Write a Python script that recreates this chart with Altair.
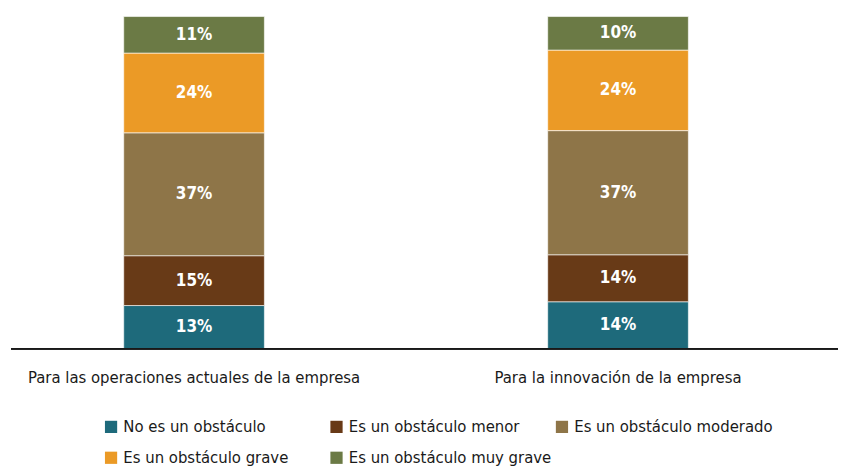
import altair as alt
import pandas as pd

categories = ["Para las operaciones actuales de la empresa", "Para la innovación de la empresa"]
levels = ["No es un obstáculo", "Es un obstáculo menor", "Es un obstáculo moderado",
          "Es un obstáculo grave", "Es un obstáculo muy grave"]
colors = ["#1E6A7B", "#683A17", "#8E7548", "#EB9A26", "#6B7A45"]
values_ops = [13, 15, 37, 24, 11]
values_inn = [14, 14, 37, 24, 10]

rows = []
for cat, vals in zip(categories, [values_ops, values_inn]):
    for i, (lev, v) in enumerate(zip(levels, vals)):
        rows.append({"cat": cat, "level": lev, "order": i, "value": v, "label": f"{v}%"})
df = pd.DataFrame(rows)

FONT = "'DejaVu Sans Condensed', Roboto, sans-serif"
W, H = 829, 333

xscale = alt.Scale(domain=categories, range=[113, 679], paddingInner=1 - 141 / 425, paddingOuter=0)

base = alt.Chart(df).transform_stack(
    stack="value", groupby=["cat"], as_=["y0", "y1"],
    sort=[alt.SortField("order", order="ascending")], offset="normalize"
).transform_calculate(mid="(datum.y0 + datum.y1) / 2")

bars = base.mark_bar(stroke="white", strokeWidth=0.6).encode(
    x=alt.X("cat:N", scale=xscale, sort=categories,
            axis=alt.Axis(title=None, labelAngle=0, domain=False, ticks=False,
                          labelFont=FONT, labelFontSize=16.6, labelColor="#1a1a1a",
                          labelPadding=21, labelLimit=500)),
    y=alt.Y("y0:Q", scale=alt.Scale(domain=[0, 1]), axis=None),
    y2="y1:Q",
    color=alt.Color("level:N", scale=alt.Scale(domain=levels, range=colors),
                    legend=alt.Legend(title=None, orient="none", legendX=92, legendY=403,
                                      direction="horizontal", columns=3, gridAlign="all",
                                      columnPadding=2, rowPadding=14,
                                      symbolType="square", symbolSize=150, symbolStrokeWidth=0,
                                      labelFont=FONT, labelFontSize=16.6, labelColor="#1a1a1a",
                                      labelOffset=4, labelLimit=400)),
)

texts = base.mark_text(font=FONT, fontSize=17, fontWeight="bold", color="white").encode(
    x=alt.X("cat:N", scale=xscale, sort=categories),
    y=alt.Y("mid:Q", scale=alt.Scale(domain=[0, 1])),
    text="label:N",
)

baseline = alt.Chart(df).mark_rule(color="#1a1a1a", strokeWidth=1.2).encode(
    x=alt.value(0), x2=alt.value(W), y=alt.value(H)
)

chart = alt.layer(bars, texts, baseline).properties(
    width=W, height=H,
    padding={"left": 2, "top": 7, "right": 0, "bottom": 0},
).configure_view(stroke=None)

chart.save("out.html", embed_options={"renderer": "svg", "actions": False})
